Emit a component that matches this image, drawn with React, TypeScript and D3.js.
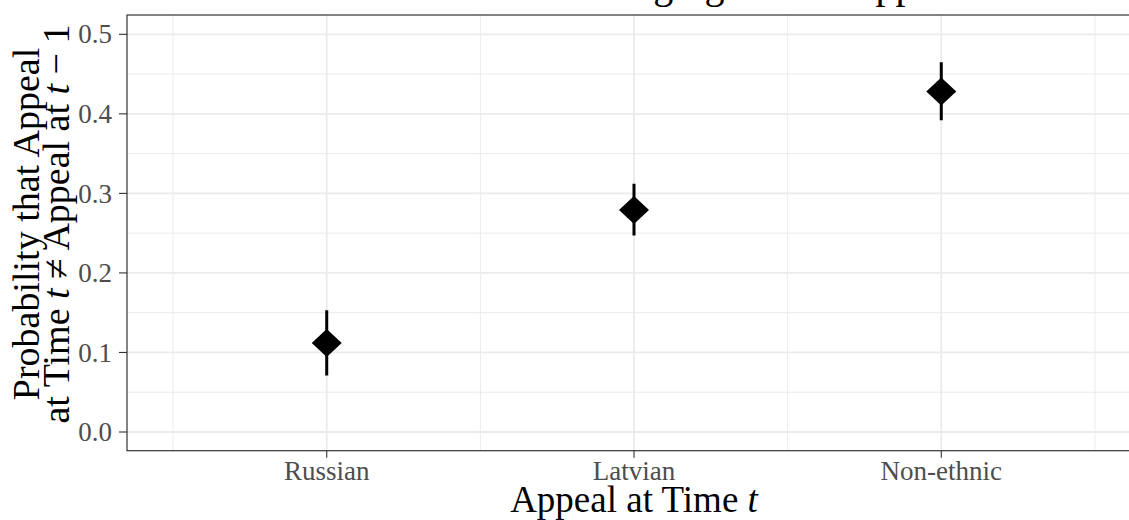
import * as d3 from "d3";

// values
const categories = ["Russian", "Latvian", "Non-ethnic"];
const estimates = [0.112, 0.279, 0.428];
const lower = [0.071, 0.247, 0.392];
const upper = [0.153, 0.312, 0.465];
const yTicks = [0, 0.1, 0.2, 0.3, 0.4, 0.5];
const yMinor = [0.05, 0.15, 0.25, 0.35, 0.45];

const W = 1129;
const H = 520;
const FONT = "'Liberation Serif', 'DejaVu Serif', serif";

export default function App() {
  // panel (the right edge runs past the cropped picture)
  const panel = { left: 127, right: 1141, top: 15, bottom: 450.7 };

  const x = d3
    .scalePoint<string>()
    .domain(categories)
    .range([panel.left, panel.right])
    .padding(0.65);

  const y = d3.scaleLinear().domain([0, 0.5]).range([432, 34.3]);

  const step = x.step();
  const xMinor = [
    (x(categories[0]) as number) - step / 2,
    ...categories.map((c) => (x(c) as number) + step / 2),
  ];

  const diamond = (cx: number, cy: number) =>
    `M${cx},${cy - 14}L${cx + 15},${cy}L${cx},${cy + 14}L${cx - 15},${cy}Z`;

  return (
    <svg
      width={W}
      height={H}
      style={{ position: "absolute", left: 0, top: 0, background: "#fff" }}
      fontFamily={FONT}
    >
      <defs>
        <clipPath id="panel-clip">
          <rect
            x={panel.left}
            y={panel.top}
            width={panel.right - panel.left}
            height={panel.bottom - panel.top}
          />
        </clipPath>
      </defs>

      {/* title, mostly cut off at the top */}
      <text x={340} y={-2} fontSize={40} fill="#000">
        Likelihood of Changing Ethnic Appeal
      </text>

      <g clipPath="url(#panel-clip)">
        {yMinor.map((v) => (
          <line key={"ym" + v} x1={panel.left} x2={panel.right} y1={y(v)} y2={y(v)} stroke="#EBEBEB" strokeWidth={1} />
        ))}
        {xMinor.map((v, i) => (
          <line key={"xm" + i} x1={v} x2={v} y1={panel.top} y2={panel.bottom} stroke="#EBEBEB" strokeWidth={1} />
        ))}
        {yTicks.map((v) => (
          <line key={"y" + v} x1={panel.left} x2={panel.right} y1={y(v)} y2={y(v)} stroke="#EBEBEB" strokeWidth={1.8} />
        ))}
        {categories.map((c) => (
          <line key={"x" + c} x1={x(c)} x2={x(c)} y1={panel.top} y2={panel.bottom} stroke="#EBEBEB" strokeWidth={1.8} />
        ))}

        {categories.map((c, i) => (
          <line
            key={"err" + c}
            x1={x(c)}
            x2={x(c)}
            y1={y(lower[i])}
            y2={y(upper[i])}
            stroke="#000"
            strokeWidth={3}
          />
        ))}
        {categories.map((c, i) => (
          <path key={"pt" + c} d={diamond(x(c) as number, y(estimates[i]))} fill="#000" />
        ))}
      </g>

      {/* panel border */}
      <rect
        x={panel.left}
        y={panel.top}
        width={panel.right - panel.left}
        height={panel.bottom - panel.top}
        fill="none"
        stroke="#333333"
        strokeWidth={1.2}
      />

      {/* y axis */}
      {yTicks.map((v) => (
        <g key={"yt" + v}>
          <line x1={panel.left - 8} x2={panel.left} y1={y(v)} y2={y(v)} stroke="#333333" strokeWidth={1.1} />
          <text x={112} y={y(v)} dy="0.34em" textAnchor="end" fontSize={27} fill="#4D4D4D">
            {d3.format(".1f")(v)}
          </text>
        </g>
      ))}

      {/* x axis */}
      {categories.map((c) => (
        <g key={"xt" + c}>
          <line x1={x(c)} x2={x(c)} y1={panel.bottom} y2={panel.bottom + 7} stroke="#333333" strokeWidth={1.1} />
          <text x={x(c)} y={480} textAnchor="middle" fontSize={27} fill="#4D4D4D">
            {c}
          </text>
        </g>
      ))}

      <text x={634} y={512} textAnchor="middle" fontSize={37} fill="#000">
        Appeal at Time <tspan fontStyle="italic">t</tspan>
      </text>

      <g transform="translate(0,224) rotate(-90)" fontSize={38} fill="#000">
        <text x={0} y={39} textAnchor="middle">
          Probability that Appeal
        </text>
        <text x={0} y={69} textAnchor="middle">
          at Time <tspan fontStyle="italic">t</tspan> ≠ Appeal at <tspan fontStyle="italic">t</tspan> − 1
        </text>
      </g>
    </svg>
  );
}
